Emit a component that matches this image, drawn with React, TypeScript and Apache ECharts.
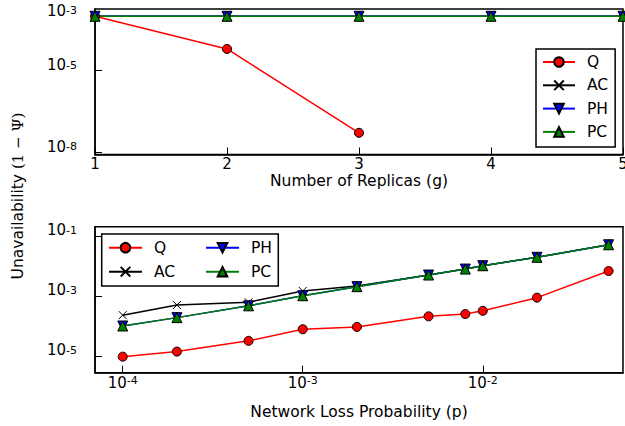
import React, { useEffect, useRef } from 'react';
import * as echarts from 'echarts';

// ---- data ----
const replicas = [1, 2, 3, 4, 5];
const replicaQ = [1.0e-3, 6.3e-5, 5.2e-8];
const replicaAC = [1.0e-3, 1.0e-3, 1.0e-3, 1.0e-3, 1.0e-3];
const replicaPH = [1.0e-3, 1.0e-3, 1.0e-3, 1.0e-3, 1.0e-3];
const replicaPC = [1.0e-3, 1.0e-3, 1.0e-3, 1.0e-3, 1.0e-3];

const lossProb = [1e-4, 2e-4, 5e-4, 1e-3, 2e-3, 5e-3, 8e-3, 1e-2, 2e-2, 5e-2];
const lossQ = [9.5e-6, 1.4e-5, 3.2e-5, 7.8e-5, 9.3e-5, 2.1e-4, 2.5e-4, 3.2e-4, 8.8e-4, 6.8e-3];
const lossAC = [2.3e-4, 5.0e-4, 6.2e-4, 1.47e-3, 2.15e-3, 5.0e-3, 8.0e-3, 1.02e-2, 1.95e-2, 5.1e-2];
const lossPH = [1.0e-4, 1.9e-4, 4.7e-4, 1.02e-3, 2.05e-3, 5.0e-3, 7.9e-3, 1.02e-2, 1.95e-2, 5.1e-2];
const lossPC = [1.0e-4, 1.9e-4, 4.7e-4, 1.02e-3, 2.05e-3, 5.0e-3, 7.9e-3, 1.02e-2, 1.95e-2, 5.1e-2];

const topYTicks = [1e-3, 1e-5, 1e-8];
const bottomYTicks = [1e-1, 1e-3, 1e-5];
const bottomXTicks = [1e-4, 1e-3, 1e-2];
const seriesNames = ['Q', 'AC', 'PH', 'PC'];

const FONT = 'DejaVu Sans';

const seriesStyle: Record<string, any> = {
  Q: { color: '#ff0000', symbol: 'circle', size: 9 },
  AC: { color: '#000000', symbol: 'path://M0,0L10,10M10,0L0,10', size: 8 },
  PH: { color: '#0000ff', symbol: 'path://M0,0L10,0L5,9Z', size: 10 },
  PC: { color: '#007f00', symbol: 'path://M5,0L10,9L0,9Z', size: 10 },
};

const expLabel = (v: number) => {
  const e = Math.round(Math.log10(v));
  return '{b|10}{s|' + e + '}';
};

function makeSeries(name: string, xs: number[], ys: number[], idx: number) {
  const st = seriesStyle[name];
  return {
    type: 'line',
    name,
    xAxisIndex: idx,
    yAxisIndex: idx,
    data: ys.map((y, i) => [xs[i], y]),
    symbol: st.symbol,
    symbolSize: st.size,
    showAllSymbol: true,
    lineStyle: { color: st.color, width: 1.5 },
    itemStyle: { color: st.color, borderColor: '#000', borderWidth: 1 },
    emphasis: { disabled: true },
  };
}

export default function App() {
  const ref = useRef<HTMLDivElement>(null);
  useEffect(() => {
    if (!ref.current) return;
    const chart = echarts.init(ref.current, undefined, { renderer: 'svg' });
    const tickCommon = {
      inside: true,
      length: 7,
      lineStyle: { color: '#000', width: 1 },
    };
    const axisLineCommon = { show: true, lineStyle: { color: '#000', width: 1.5 } };
    const yLabelRich = {
      b: { fontSize: 15, lineHeight: 16, fontFamily: FONT, color: '#000' },
      s: { fontSize: 11, lineHeight: 16, fontFamily: FONT, color: '#000' },
    };
    const xLabelRich = {
      b: { fontSize: 15, lineHeight: 16, fontFamily: FONT, color: '#000', verticalAlign: 'bottom' },
      s: { fontSize: 11, lineHeight: 12, fontFamily: FONT, color: '#000', verticalAlign: 'top', padding: [0, 0, 7, 0] },
    };
    const option: any = {
      animation: false,
      backgroundColor: '#fff',
      grid: [
        { left: 95, top: 9, width: 528, height: 145.5, show: true, borderColor: '#000', borderWidth: 1.5, containLabel: false, outerBoundsMode: 'none' },
        { left: 95, top: 226.7, width: 528, height: 146, show: true, borderColor: '#000', borderWidth: 1.5, containLabel: false, outerBoundsMode: 'none' },
      ],
      xAxis: [
        {
          type: 'value',
          gridIndex: 0,
          min: 1,
          max: 5,
          interval: 1,
          name: 'Number of Replicas (g)',
          nameLocation: 'middle',
          nameGap: 15,
          nameTextStyle: { fontSize: 15.5, fontFamily: FONT, color: '#000', lineHeight: 18 },
          axisLine: axisLineCommon,
          axisTick: tickCommon,
          splitLine: { show: false },
          axisLabel: { fontSize: 15, lineHeight: 16, fontFamily: FONT, color: '#000', margin: 1, showMinLabel: true, showMaxLabel: true, hideOverlap: false },
        },
        {
          type: 'log',
          logBase: 10,
          gridIndex: 1,
          min: Math.pow(10, -4.154),
          max: Math.pow(10, -1.221),
          name: 'Network Loss Probability (p)',
          nameLocation: 'middle',
          nameGap: 30,
          nameTextStyle: { fontSize: 15.5, fontFamily: FONT, color: '#000', lineHeight: 18 },
          axisLine: axisLineCommon,
          axisTick: { ...tickCommon, customValues: bottomXTicks },
          minorTick: { show: false },
          splitLine: { show: false },
          axisLabel: { customValues: bottomXTicks, formatter: expLabel, rich: xLabelRich, margin: 2 },
        },
      ],
      yAxis: [
        {
          type: 'log',
          logBase: 10,
          gridIndex: 0,
          min: Math.pow(10, -8.081),
          max: Math.pow(10, -2.732),
          axisLine: axisLineCommon,
          axisTick: { ...tickCommon, customValues: topYTicks },
          splitLine: { show: false },
          axisLabel: { customValues: topYTicks, formatter: expLabel, rich: yLabelRich, margin: 18, padding: [0, 0, 11, 0] },
        },
        {
          type: 'log',
          logBase: 10,
          gridIndex: 1,
          min: Math.pow(10, -5.557),
          max: Math.pow(10, -0.69),
          axisLine: axisLineCommon,
          axisTick: { ...tickCommon, customValues: bottomYTicks },
          splitLine: { show: false },
          axisLabel: { customValues: bottomYTicks, formatter: expLabel, rich: yLabelRich, margin: 18, padding: [0, 0, 11, 0] },
        },
      ],
      legend: [
        {
          data: seriesNames,
          orient: 'vertical',
          left: 536,
          top: 49,
          padding: [4, 7, 6, 6],
          itemWidth: 32,
          itemHeight: 12,
          itemGap: 5.3,
          borderColor: '#000',
          borderWidth: 1.5,
          borderRadius: 0,
          backgroundColor: '#fff',
          selectedMode: false,
          textStyle: { fontSize: 15.5, fontFamily: FONT, color: '#000', lineHeight: 18, padding: [0, 0, 0, 7] },
        },
        {
          data: ['Q', 'AC'],
          orient: 'vertical',
          left: 108,
          top: 238.7,
          padding: 0,
          itemWidth: 33,
          itemHeight: 12,
          itemGap: 6,
          selectedMode: false,
          textStyle: { fontSize: 15.5, fontFamily: FONT, color: '#000', lineHeight: 18, padding: [0, 0, 0, 7] },
        },
        {
          data: ['PH', 'PC'],
          orient: 'vertical',
          left: 205,
          top: 238.7,
          padding: 0,
          itemWidth: 33,
          itemHeight: 12,
          itemGap: 6,
          selectedMode: false,
          textStyle: { fontSize: 15.5, fontFamily: FONT, color: '#000', lineHeight: 18, padding: [0, 0, 0, 7] },
        },
      ],
      graphic: [
        {
          type: 'rect',
          z: 3,
          shape: { x: 101.7, y: 234, width: 176.6, height: 52 },
          style: { fill: '#fff', stroke: '#000', lineWidth: 1.5 },
        },
        {
          type: 'text',
          x: 18,
          y: 196,
          rotation: Math.PI / 2,
          style: {
            text: '{a|Unavailability }{m|(1 − Ψ)}',
            align: 'center',
            verticalAlign: 'middle',
            rich: {
              a: { fontSize: 15.5, fontFamily: FONT, fill: '#000', color: '#000' },
              m: { fontSize: 15, fontFamily: 'DejaVu Serif', fill: '#000', color: '#000' },
            },
          },
        },
      ],
      series: [
        makeSeries('Q', replicas, replicaQ, 0),
        makeSeries('AC', replicas, replicaAC, 0),
        makeSeries('PH', replicas, replicaPH, 0),
        makeSeries('PC', replicas, replicaPC, 0),
        makeSeries('Q', lossProb, lossQ, 1),
        makeSeries('AC', lossProb, lossAC, 1),
        makeSeries('PH', lossProb, lossPH, 1),
        makeSeries('PC', lossProb, lossPC, 1),
      ],
    };
    chart.setOption(option);
    return () => chart.dispose();
  }, []);
  return (
    <div
      ref={ref}
      style={{ position: 'fixed', left: 0, top: 0, width: 625, height: 426, background: '#fff' }}
    />
  );
}
